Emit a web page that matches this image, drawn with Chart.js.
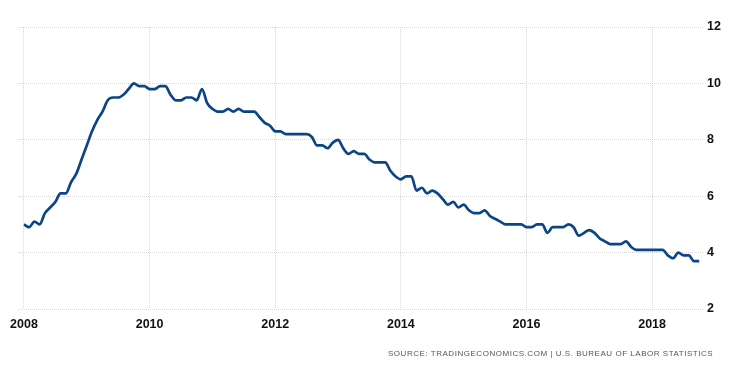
<!DOCTYPE html>
<html>
<head>
<meta charset="utf-8">
<script src="https://cdn.jsdelivr.net/npm/chart.js@4"></script>
<style>
  html, body { margin: 0; padding: 0; background: #fff; }
  #wrap { position: relative; width: 750px; height: 372px; }
  #source {
    position: absolute; left: 388px; top: 349px;
    font: 8px 'Liberation Sans', Arial, sans-serif;
    color: #555; letter-spacing: 0.53px; white-space: nowrap;
  }
</style>
</head>
<body>
<div id="wrap">
  <canvas id="chart" width="750" height="372"></canvas>
  <div id="source">SOURCE: TRADINGECONOMICS.COM | U.S. BUREAU OF LABOR STATISTICS</div>
</div>
<script>
// Monthly unemployment rate (%), one array per year
const u2008 = [5.0, 4.9, 5.1, 5.0, 5.4, 5.6, 5.8, 6.1, 6.1, 6.5, 6.8, 7.3];
const u2009 = [7.8, 8.3, 8.7, 9.0, 9.4, 9.5, 9.5, 9.6, 9.8, 10.0, 9.9, 9.9];
const u2010 = [9.8, 9.8, 9.9, 9.9, 9.6, 9.4, 9.4, 9.5, 9.5, 9.4, 9.8, 9.3];
const u2011 = [9.1, 9.0, 9.0, 9.1, 9.0, 9.1, 9.0, 9.0, 9.0, 8.8, 8.6, 8.5];
const u2012 = [8.3, 8.3, 8.2, 8.2, 8.2, 8.2, 8.2, 8.1, 7.8, 7.8, 7.7, 7.9];
const u2013 = [8.0, 7.7, 7.5, 7.6, 7.5, 7.5, 7.3, 7.2, 7.2, 7.2, 6.9, 6.7];
const u2014 = [6.6, 6.7, 6.7, 6.2, 6.3, 6.1, 6.2, 6.1, 5.9, 5.7, 5.8, 5.6];
const u2015 = [5.7, 5.5, 5.4, 5.4, 5.5, 5.3, 5.2, 5.1, 5.0, 5.0, 5.0, 5.0];
const u2016 = [4.9, 4.9, 5.0, 5.0, 4.7, 4.9, 4.9, 4.9, 5.0, 4.9, 4.6, 4.7];
const u2017 = [4.8, 4.7, 4.5, 4.4, 4.3, 4.3, 4.3, 4.4, 4.2, 4.1, 4.1, 4.1];
const u2018 = [4.1, 4.1, 4.1, 3.9, 3.8, 4.0, 3.9, 3.9, 3.7, 3.7];

const years = [2008, 2009, 2010, 2011, 2012, 2013, 2014, 2015, 2016, 2017, 2018];
const yearData = [u2008, u2009, u2010, u2011, u2012, u2013, u2014, u2015, u2016, u2017, u2018];

// Tick labels
const xTicks = [2008, 2010, 2012, 2014, 2016, 2018];
const yTicks = [2, 4, 6, 8, 10, 12];

// Build points: x = year + month/12
const points = [];
years.forEach((yr, i) => {
  yearData[i].forEach((v, m) => points.push({ x: yr + m / 12, y: v }));
});

const gridStyle = {
  color: '#d6d6d6',
  lineWidth: 1,
  drawTicks: false,
  tickLength: 0
};

// dotted grid lines (border.dash applies to grid lines in v4)
const gridBorder = { display: false, dash: [1, 1] };

const tickFont = { family: "'Liberation Sans', Arial", size: 12.5, weight: 'bold' };

new Chart(document.getElementById('chart'), {
  type: 'line',
  data: {
    datasets: [{
      data: points,
      borderColor: '#0b4586',
      borderWidth: 2.7,
      pointRadius: 0,
      cubicInterpolationMode: 'monotone',
      fill: false
    }]
  },
  options: {
    responsive: false,
    animation: false,
    layout: { padding: { left: 18, top: 27, right: 0, bottom: 0 } },
    plugins: { legend: { display: false }, tooltip: { enabled: false } },
    scales: {
      x: {
        type: 'linear',
        min: 2007.905,
        max: 2018.81,
        afterBuildTicks: s => { s.ticks = xTicks.map(v => ({ value: v })); },
        afterFit: s => { s.height = 63; },
        grid: gridStyle,
        border: gridBorder,
        ticks: {
          padding: 8,
          color: '#111',
          font: tickFont,
          callback: v => String(v)
        }
      },
      y: {
        position: 'right',
        min: 2,
        max: 12,
        afterBuildTicks: s => { s.ticks = yTicks.map(v => ({ value: v })); },
        afterFit: s => { s.width = 47; },
        grid: gridStyle,
        border: gridBorder,
        ticks: {
          padding: 4,
          color: '#111',
          font: tickFont
        }
      }
    }
  }
});
</script>
</body>
</html>
